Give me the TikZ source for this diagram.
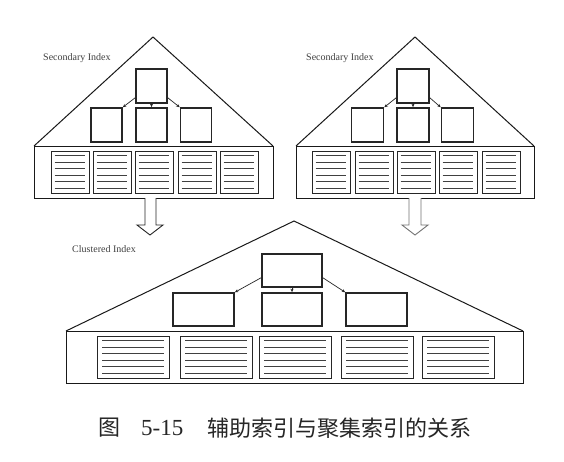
\documentclass[tikz,border=0pt]{standalone}
\usepackage{fontspec}
\setmainfont{Liberation Serif}
\newfontfamily\cjk{Noto Sans CJK SC}
\usetikzlibrary{arrows.meta}
\begin{document}
\begin{tikzpicture}[x=1pt,y=-1pt,
  frame/.style={draw=black!90,line width=1pt},
  nodebox/.style={draw=black!85,line width=1.1pt,fill=white,inner sep=0pt},
  leafbox/.style={draw=black!85,line width=1.2pt,fill=white,inner sep=0pt,anchor=north west},
  leafline/.style={draw=black!75,line width=0.9pt},
  ptr/.style={draw=black!85,line width=0.7pt,-{Stealth[length=3.5pt,width=3pt]},shorten >=0.3pt},
  lbl/.style={font=\fontsize{10}{12}\selectfont,text=black!75,inner sep=0pt,anchor=west},
  blockarrow/.style={line width=0.9pt,fill=white,line join=miter},
  captext/.style={inner sep=0pt,anchor=west,text=black!85},
]
\useasboundingbox (0,0) rectangle (564,461);
\fill[white] (0,0) rectangle (564,461);

% ---------- left secondary index ----------
\draw[frame] (34,146) -- (153,37) -- (273,146);
\draw[frame] (34,146) rectangle (273,198);
\node[lbl] (sl) at (43,58) {Secondary Index};
\node[nodebox,minimum width=31,minimum height=34] (lt) at (151.5,86) {};
\node[nodebox,minimum width=31,minimum height=34] (la) at (106.5,125) {};
\node[nodebox,minimum width=31,minimum height=34] (lb) at (151.5,125) {};
\node[nodebox,minimum width=31,minimum height=34] (lc) at (196,125) {};
\draw[ptr] ([yshift=6pt]lt.south west) -- (la.north east);
\draw[ptr] (lt.south) -- (lb.north);
\draw[ptr] ([yshift=6pt]lt.south east) -- (lc.north west);
\foreach \x [count=\i] in {51,93,135,178,220} {
  \node[leafbox,minimum width=37.5,minimum height=42] (lp\i) at (\x,151) {};
  \foreach \k in {0,...,5}
    \draw[leafline] (\x+3.5,151+4.5+6.5*\k) -- (\x+34,151+4.5+6.5*\k);
}
\draw[blockarrow,draw=black!85] (145,198) -- (145,225) -- (137,225) -- (150,235) -- (163,225) -- (156,225) -- (156,198);

% ---------- right secondary index ----------
\draw[frame] (296,146) -- (415,37) -- (534,146);
\draw[frame] (296,146) rectangle (534,198);
\node[lbl] (sr) at (306,58) {Secondary Index};
\node[nodebox,minimum width=32,minimum height=34] (rt) at (413,86) {};
\node[nodebox,minimum width=32,minimum height=34] (ra) at (367.5,125) {};
\node[nodebox,minimum width=32,minimum height=34] (rb) at (413,125) {};
\node[nodebox,minimum width=32,minimum height=34] (rc) at (457.5,125) {};
\draw[ptr] ([yshift=6pt]rt.south west) -- (ra.north east);
\draw[ptr] (rt.south) -- (rb.north);
\draw[ptr] ([yshift=6pt]rt.south east) -- (rc.north west);
\foreach \x [count=\i] in {312,355,397,439,482} {
  \node[leafbox,minimum width=37.5,minimum height=42] (rp\i) at (\x,151) {};
  \foreach \k in {0,...,5}
    \draw[leafline] (\x+3.5,151+4.5+6.5*\k) -- (\x+34,151+4.5+6.5*\k);
}
\draw[blockarrow,draw=black!55] (409,198) -- (409,225) -- (402,225) -- (415,235) -- (428,225) -- (421,225) -- (421,198);

% ---------- clustered index ----------
\draw[frame] (66,331) -- (294,221) -- (523,331);
\draw[frame] (66,331) rectangle (523,383);
\node[lbl] (cl) at (72,249) {Clustered Index};
\node[nodebox,minimum width=60,minimum height=33] (ct) at (292,270.5) {};
\node[nodebox,minimum width=61,minimum height=33] (ca) at (203.5,309.5) {};
\node[nodebox,minimum width=60,minimum height=33] (cb) at (292,309.5) {};
\node[nodebox,minimum width=61,minimum height=33] (cc) at (376.5,309.5) {};
\draw[ptr] ([yshift=10pt]ct.south west) -- (ca.north east);
\draw[ptr] (ct.south) -- (cb.north);
\draw[ptr] ([yshift=10pt]ct.south east) -- (cc.north west);
\foreach \x [count=\i] in {97,180,259,341,422} {
  \node[leafbox,minimum width=72,minimum height=42] (cp\i) at (\x,336) {};
  \foreach \k in {0,...,5}
    \draw[leafline] (\x+5,336+4.5+6.5*\k) -- (\x+67,336+4.5+6.5*\k);
}

% ---------- caption ----------
\node[captext,font=\cjk\fontsize{22}{26}\selectfont] (fig) at (98,428) {图};
\node[captext,font=\fontsize{23}{26}\selectfont] (num) at (141,428.5) {5-15};
\node[captext,font=\cjk\fontsize{22}{26}\selectfont] (txt) at (207,428) {辅助索引与聚集索引的关系};
\end{tikzpicture}
\end{document}
